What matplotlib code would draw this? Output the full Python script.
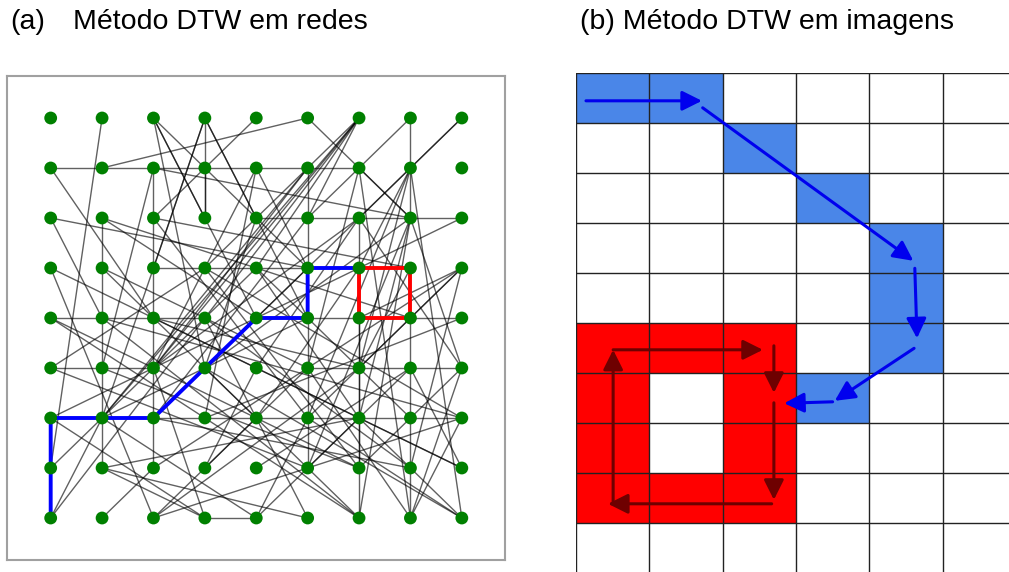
import matplotlib
matplotlib.use("Agg")
import matplotlib.pyplot as plt
from matplotlib.patches import Rectangle

plt.rcParams["font.family"] = ["Liberation Sans", "DejaVu Sans"]

# ---- panel (a): network on a 9x9 lattice ----
n_cols = 9
n_rows = 9

# edges as ((col, row), (col, row)), row 0 is top
edges = [
    ((1, 0), (0, 7)), ((2, 0), (3, 2)), ((2, 0), (4, 4)), ((2, 0), (5, 3)), ((2, 0), (3, 5)),
    ((3, 0), (3, 2)), ((3, 0), (2, 3)), ((3, 0), (1, 6)), ((3, 0), (5, 4)), ((3, 0), (4, 2)),
    ((4, 0), (2, 2)), ((5, 0), (1, 1)), ((5, 0), (7, 2)),
    ((6, 0), (3, 4)), ((6, 0), (2, 5)), ((6, 0), (4, 3)), ((6, 0), (1, 6)), ((6, 0), (5, 2)),
    ((6, 0), (3, 3)), ((7, 0), (5, 2)), ((7, 0), (7, 2)), ((8, 0), (7, 1)), ((8, 0), (6, 2)),
    ((0, 1), (6, 1)), ((0, 1), (2, 4)), ((2, 1), (2, 7)), ((2, 1), (1, 5)), ((2, 1), (7, 2)),
    ((3, 1), (3, 2)), ((4, 1), (2, 5)), ((4, 1), (3, 6)), ((4, 1), (5, 3)), ((5, 1), (5, 3)),
    ((5, 1), (2, 5)), ((5, 1), (1, 6)), ((6, 1), (7, 2)), ((6, 1), (7, 8)), ((6, 1), (5, 5)),
    ((7, 1), (8, 8)), ((7, 1), (6, 5)), ((7, 1), (5, 6)), ((7, 1), (4, 4)), ((7, 1), (6, 3)),
    ((0, 2), (5, 3)), ((0, 2), (1, 4)), ((1, 2), (7, 4)), ((1, 2), (4, 4)), ((1, 2), (1, 7)),
    ((2, 2), (7, 3)), ((2, 2), (5, 6)), ((4, 2), (8, 2)), ((4, 2), (3, 5)),
    ((5, 2), (2, 6)), ((6, 2), (4, 5)), ((6, 2), (2, 5)), ((6, 2), (6, 5)), ((6, 2), (8, 5)),
    ((7, 2), (6, 6)), ((7, 2), (5, 7)), ((7, 2), (8, 5)), ((7, 2), (3, 5)), ((7, 2), (6, 8)),
    ((8, 2), (4, 4)), ((2, 3), (5, 3)), ((0, 3), (4, 5)), ((0, 3), (2, 8)),
    ((0, 4), (3, 4)), ((0, 4), (6, 7)), ((0, 4), (3, 6)), ((0, 5), (2, 5)), ((0, 5), (5, 7)),
    ((0, 5), (3, 3)), ((0, 6), (3, 8)), ((0, 6), (4, 4)), ((0, 7), (2, 5)), ((0, 8), (1, 6)),
    ((0, 8), (3, 4)), ((1, 3), (5, 5)), ((1, 3), (4, 6)), ((1, 4), (8, 6)), ((1, 4), (6, 8)),
    ((1, 5), (6, 7)), ((1, 6), (5, 4)), ((1, 6), (4, 8)), ((1, 7), (3, 8)), ((1, 7), (5, 8)),
    ((1, 7), (6, 6)), ((1, 8), (2, 7)), ((2, 4), (6, 5)), ((2, 4), (8, 7)), ((2, 5), (4, 3)),
    ((2, 6), (8, 6)), ((2, 6), (7, 7)), ((2, 6), (5, 3)), ((2, 7), (5, 5)), ((2, 8), (5, 7)),
    ((2, 8), (4, 6)), ((2, 8), (6, 5)), ((3, 3), (8, 6)), ((3, 3), (6, 7)), ((3, 4), (7, 7)),
    ((3, 4), (5, 8)), ((3, 5), (8, 8)), ((3, 5), (6, 8)), ((3, 6), (6, 8)), ((3, 6), (8, 4)),
    ((3, 7), (5, 5)), ((3, 7), (4, 5)), ((3, 8), (4, 8)), ((3, 8), (2, 5)), ((4, 3), (7, 6)),
    ((4, 3), (6, 6)), ((4, 5), (8, 7)), ((4, 6), (6, 3)), ((4, 7), (7, 5)), ((4, 8), (6, 6)),
    ((4, 8), (5, 6)), ((5, 4), (5, 7)), ((5, 4), (8, 4)), ((5, 5), (8, 5)), ((5, 5), (7, 8)),
    ((5, 5), (8, 3)), ((5, 6), (8, 8)), ((5, 7), (8, 6)), ((5, 7), (7, 5)), ((6, 5), (6, 8)),
    ((6, 6), (8, 8)), ((6, 7), (8, 5)), ((8, 3), (6, 5)), ((8, 3), (5, 6)), ((8, 3), (7, 7)),
    ((8, 3), (6, 4)), ((8, 5), (7, 8)), ((8, 6), (7, 8)), ((8, 7), (7, 5)), ((7, 4), (7, 8)),
    ((6, 3), (6, 7)), ((7, 3), (6, 5)),
]

blue_path = [(0, 8), (0, 6), (1, 6), (2, 6), (3, 5), (4, 4), (5, 4), (5, 3), (6, 3)]
red_path = [(6, 3), (7, 3), (7, 4), (6, 4), (6, 3)]

# ---- panel (b): image grid ----
blue_cells = [(0, 0), (1, 0), (2, 1), (3, 2), (4, 3), (4, 4), (4, 5), (3, 6)]
red_cells = [(0, 5), (1, 5), (2, 5), (0, 6), (2, 6), (0, 7), (2, 7), (0, 8), (1, 8), (2, 8)]

# arrows as (x0, y0, x1, y1) in cell units
blue_arrows = [
    (0.14, 0.55, 1.72, 0.55),
    (1.73, 0.69, 4.60, 3.75),
    (4.62, 3.90, 4.65, 5.30),
    (4.61, 5.50, 3.53, 6.55),
    (3.50, 6.57, 2.84, 6.60),
]
red_arrows = [
    (0.51, 8.61, 0.51, 5.53),
    (0.51, 5.53, 2.55, 5.53),
    (2.70, 5.45, 2.70, 6.39),
    (2.70, 6.59, 2.70, 8.53),
    (2.67, 8.61, 0.44, 8.61),
]

W, H = 1009, 572
fig = plt.figure(figsize=(W / 100, H / 100), dpi=100)

# left axes
ax1 = fig.add_axes([7 / W, 1 - 560 / H, 498 / W, 484 / H])
ax1.set_xlim(-0.85, 8.84)
ax1.set_ylim(8.84, -0.84)
ax1.set_xticks([])
ax1.set_yticks([])
for sp in ax1.spines.values():
    sp.set_color("#a0a0a0")
    sp.set_linewidth(1.5)

for (a, b) in edges:
    ax1.plot([a[0], b[0]], [a[1], b[1]], color="black", alpha=0.62, lw=1.0, zorder=1)

ax1.plot([p[0] for p in blue_path], [p[1] for p in blue_path], color="#0000ff",
         lw=2.8, zorder=2, solid_capstyle="butt")
ax1.plot([p[0] for p in red_path], [p[1] for p in red_path], color="#ff0000",
         lw=2.8, zorder=2, solid_capstyle="butt")

gx = [c for r in range(n_rows) for c in range(n_cols)]
gy = [r for r in range(n_rows) for c in range(n_cols)]
ax1.scatter(gx, gy, s=85, color="#008000", edgecolors="none", zorder=3)

# right axes
x_right = (W - 575.7) / 73.4
y_bottom = (H - 73.3) / 50
ax2 = fig.add_axes([575.7 / W, 0, (W - 575.7) / W, (H - 73.3) / H])
ax2.set_xlim(0, x_right)
ax2.set_ylim(y_bottom, 0)
ax2.axis("off")

for (c, r) in blue_cells:
    ax2.add_patch(Rectangle((c, r), 1, 1, facecolor="#4a86e8", edgecolor="none", zorder=1))
for (c, r) in red_cells:
    ax2.add_patch(Rectangle((c, r), 1, 1, facecolor="#ff0000", edgecolor="none", zorder=1))

for i in range(0, 7):
    ax2.axvline(i, color="#222222", lw=1.0, zorder=2)
for j in range(0, 11):
    ax2.axhline(j, color="#222222", lw=1.0, zorder=2)

for (x0, y0, x1, y1) in blue_arrows:
    ax2.annotate("", xy=(x1, y1), xytext=(x0, y0),
                 arrowprops=dict(arrowstyle="-|>", color="#0000ee", lw=2.2,
                                 mutation_scale=30, shrinkA=0, shrinkB=0), zorder=4)
for (x0, y0, x1, y1) in red_arrows:
    ax2.annotate("", xy=(x1, y1), xytext=(x0, y0),
                 arrowprops=dict(arrowstyle="-|>", color="#6e0000", lw=2.2,
                                 mutation_scale=30, shrinkA=0, shrinkB=0), zorder=4)

# titles
fs = 20.5
fig.text(10 / W, 1 - 22 / H, "(a)", fontsize=fs, va="center", ha="left")
fig.text(73 / W, 1 - 22 / H, "Método DTW em redes", fontsize=fs, va="center", ha="left")
fig.text(580 / W, 1 - 22 / H, "(b) Método DTW em imagens", fontsize=fs, va="center", ha="left")

fig.savefig("out.png", dpi=100)
